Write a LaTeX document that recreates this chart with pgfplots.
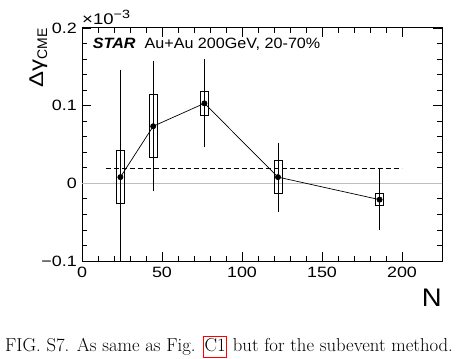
\documentclass[border=0pt]{standalone}
\usepackage{fontspec}
\usepackage{pgfplots}
\pgfplotsset{compat=1.18}
\newfontfamily\arial{Liberation Sans}
\newfontfamily\arialT{Liberation Sans}[FakeStretch=1.2]
\newfontfamily\arialS{Liberation Sans}[FakeStretch=1.08]
\pgfplotstableread{
x y e
24 0.008 0.136
44.5 0.0735 0.0815
76.5 0.103 0.0545
122.5 0.008 0.042
186 -0.021 0.037
}\datatab
\begin{document}
\begin{tikzpicture}
\path[use as bounding box] (-82bp,-98bp) rectangle (379bp,261bp);
\begin{axis}[
 at={(0,0)}, anchor=south west,
 scale only axis, width=360bp, height=233bp,
 xmin=0, xmax=225, ymin=-0.1, ymax=0.2,
 xtick={0,50,100,150,200}, xticklabels={0,50,100,150,200},
 ytick={-0.1,0,0.1,0.2}, yticklabels={−0.1,0,0.1,0.2},
 minor x tick num=4, minor y tick num=4,
 tick align=inside,
 major tick length=9bp, minor tick length=5bp,
 axis line style={line width=1bp},
 tick style={black, line width=0.8bp},
 ticklabel style={font=\arialT\fontsize{15}{15}\selectfont},
 yticklabel style={inner sep=2bp, xshift=-3bp},
 xticklabel style={inner sep=2bp, yshift=-3.5bp},
 scaled y ticks=false,
]
\addplot[color={rgb,255:red,190;green,190;blue,190}, line width=1bp, forget plot] coordinates {(0,0) (225,0)};
\addplot[black, line width=0.9bp, dash pattern=on 5bp off 3bp] coordinates {(15,0.019) (200,0.019)};
% systematic boxes
\addplot[black, line width=0.9bp] coordinates {(21.5,-0.026) (26.5,-0.026) (26.5,0.042) (21.5,0.042) (21.5,-0.026)};
\addplot[black, line width=0.9bp] coordinates {(42,0.033) (47,0.033) (47,0.114) (42,0.114) (42,0.033)};
\addplot[black, line width=0.9bp] coordinates {(74,0.088) (79,0.088) (79,0.118) (74,0.118) (74,0.088)};
\addplot[black, line width=0.9bp] coordinates {(120,-0.013) (125,-0.013) (125,0.029) (120,0.029) (120,-0.013)};
\addplot[black, line width=0.9bp] coordinates {(183.5,-0.029) (188.5,-0.029) (188.5,-0.013) (183.5,-0.013) (183.5,-0.029)};
% data
\addplot[black, line width=0.7bp, mark=*, mark size=2.6bp,
  error bars/.cd, y dir=both, y explicit,
  error bar style={line width=0.9bp},
  error mark options={black, mark size=1.8bp, line width=0.9bp}]
  table[x=x, y=y, y error=e] {\datatab};
\end{axis}
\node[anchor=base east, rotate=90, inner sep=0pt] at (-39bp,233bp)
  {\arialT\fontsize{20}{20}\selectfont Δγ\raisebox{-4bp}{\arial\fontsize{14}{14}\selectfont CME}};
\node[anchor=base west, inner sep=0pt] at (0bp,236bp)
  {\arialT\fontsize{15.5}{16}\selectfont ×10\raisebox{6.5bp}{\fontsize{12}{12}\selectfont −3}};
\node[anchor=base west, inner sep=0pt] at (10.7bp,212.7bp)
  {\arialS\fontsize{15}{15}\selectfont\bfseries\itshape STAR\mdseries\upshape\ \ Au+Au 200GeV, 20-70\%};
\node[anchor=base east, inner sep=0pt] at (360bp,-45.7bp)
  {\arialS\fontsize{25.5}{26}\selectfont N};
\node[anchor=base west, inner sep=0pt] at (-77bp,-90bp)
  {\fontsize{18.8}{20}\selectfont FIG. S7. As same as Fig. {\fboxsep=0.5bp\fboxrule=1bp\fcolorbox{red}{white}{\rule[-5bp]{0pt}{19bp}C1}} but for the subevent method.};
\end{tikzpicture}
\end{document}
